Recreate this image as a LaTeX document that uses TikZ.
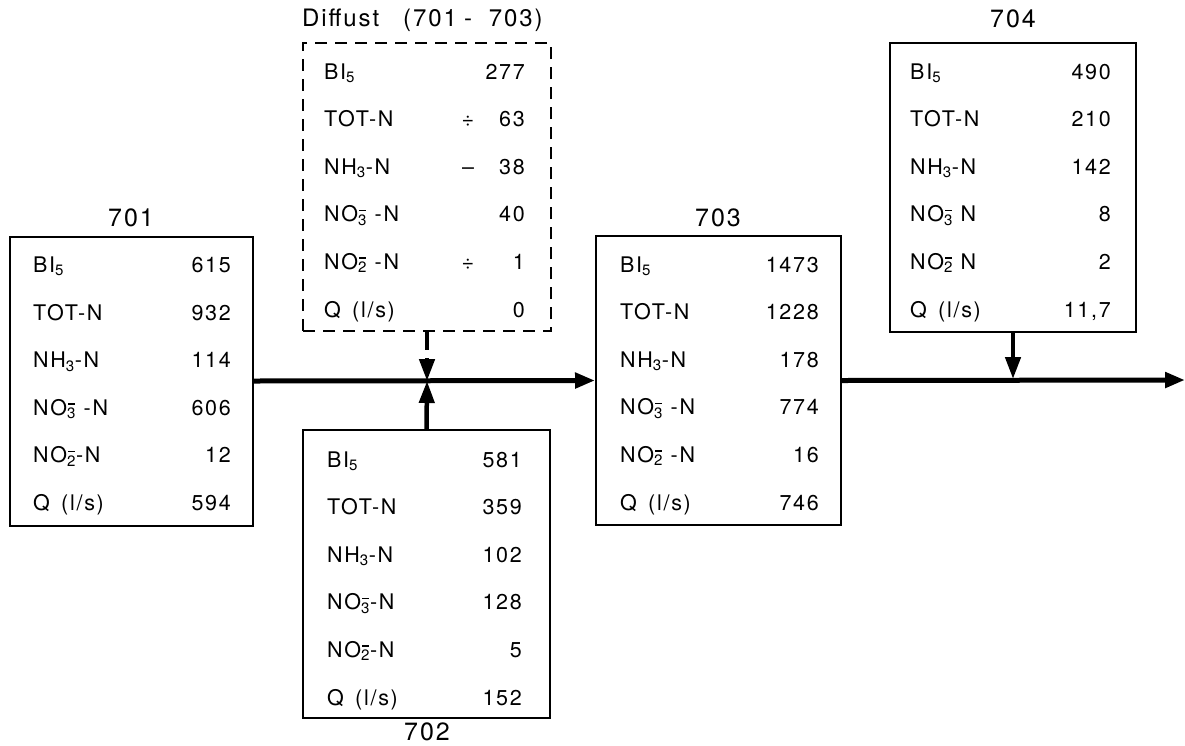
\documentclass[tikz,border=0pt]{standalone}
\usepackage{fontspec}
\setmainfont[LetterSpace=8]{TeX Gyre Heros}
\usetikzlibrary{arrows.meta}
\newcommand\ionsub[1]{\makebox[0pt][l]{\hspace{0.05em}\raisebox{0.5em}{\rule{0.3em}{1.3pt}}}\textsubscript{#1}}
\newcommand\BIfive{BI\textsubscript{5}}
\newcommand\NHthree{NH\textsubscript{3}-N}
\newcommand\Qls{Q\ \,(l/s)}
\begin{document}
\begin{tikzpicture}[x=1pt,y=-1pt,
  every node/.style={font=\fontsize{21.5}{24}\selectfont, inner sep=0pt},
  title/.style={font=\fontsize{25}{28}\selectfont},
  databox/.style={draw, line width=2pt, rectangle, minimum width=#1, minimum height=289pt},
  diffbox/.style={draw, line width=2pt, dash pattern=on 12pt off 8pt, rectangle, minimum width=248pt, minimum height=288pt},
  lab/.style={anchor=base west},
  val/.style={anchor=base east},
  flow/.style={line width=5pt, -{Triangle[length=20pt,width=15pt]}},
  inflow/.style={line width=4.5pt, -{Triangle[length=22pt,width=15pt]}},
  dashflow/.style={line width=4.5pt, dash pattern=on 18pt off 8pt, -{Triangle[length=22pt,width=15pt]}}
]
\useasboundingbox (0,0) rectangle (1185,745);

% boxes
\node[databox=243pt] (b701) at (131.5,381) {};
\node[diffbox] (diff) at (427,187) {};
\node[databox=247pt, minimum height=288pt] (b702) at (426.5,574) {};
\node[databox=245pt] (b703) at (718.5,380.5) {};
\node[databox=246pt] (b704) at (1013,187.5) {};

% titles
\node[title] (t701) at (131,218) {701};
\node[title] (t703) at (718,218) {703};
\node[title] (t704) at (1013,19) {704};
\node[title] (t702) at (427,732) {702};
\node[anchor=west, font=\fontsize{24}{26}\selectfont] (tdiff) at (302,20) {Diffust\hspace{1.0em}(701\hspace{0.3em}-\hspace{0.7em}703)};

% rows of box 701
\foreach \l/\v [count=\i from 0] in {\BIfive/615, TOT-N/932, \NHthree/114, NO\ionsub{3} -N/606, NO\ionsub{2}-N/12, \Qls/594}{
  \node[lab] (r701l\i) at ([xshift=24pt, yshift=-(29+47.6*\i+8)]b701.north west) {\l};
  \node[val] (r701v\i) at ([xshift=-23pt, yshift=-(29+47.6*\i+8)]b701.north east) {\v};
}
% rows of diffuse box
\foreach \l/\v [count=\i from 0] in {\BIfive/277, TOT-N/63, \NHthree/38, NO\ionsub{3} -N/40, NO\ionsub{2} -N/1, \Qls/0}{
  \node[lab] (rdl\i) at ([xshift=22pt, yshift=-(29+47.6*\i+8)]diff.north west) {\l};
  \node[val] (rdv\i) at ([xshift=-27pt, yshift=-(29+47.6*\i+8)]diff.north east) {\v};
}
\node[anchor=base] (m1) at ([xshift=-84pt, yshift=-(29+47.6*1+8)]diff.north east) {÷};
\node[anchor=base] (m2) at ([xshift=-84pt, yshift=-(29+47.6*2+8)]diff.north east) {–};
\node[anchor=base] (m4) at ([xshift=-84pt, yshift=-(29+47.6*4+8)]diff.north east) {÷};
% rows of box 702
\foreach \l/\v [count=\i from 0] in {\BIfive/581, TOT-N/359, \NHthree/102, NO\ionsub{3}-N/128, NO\ionsub{2}-N/5, \Qls/152}{
  \node[lab] (r702l\i) at ([xshift=25pt, yshift=-(30+47.6*\i+8)]b702.north west) {\l};
  \node[val] (r702v\i) at ([xshift=-29pt, yshift=-(30+47.6*\i+8)]b702.north east) {\v};
}
% rows of box 703
\foreach \l/\v [count=\i from 0] in {\BIfive/1473, TOT-N/1228, \NHthree/178, NO\ionsub{3} -N/774, NO\ionsub{2} -N/16, \Qls/746}{
  \node[lab] (r703l\i) at ([xshift=25pt, yshift=-(29+47.6*\i+8)]b703.north west) {\l};
  \node[val] (r703v\i) at ([xshift=-23pt, yshift=-(29+47.6*\i+8)]b703.north east) {\v};
}
% rows of box 704
\foreach \l/\v [count=\i from 0] in {\BIfive/490, TOT-N/210, \NHthree/142, NO\ionsub{3} N/8, NO\ionsub{2} N/2, \Qls/{11,7}}{
  \node[lab] (r704l\i) at ([xshift=21pt, yshift=-(29+47.6*\i+8)]b704.north west) {\l};
  \node[val] (r704v\i) at ([xshift=-26pt, yshift=-(29+47.6*\i+8)]b704.north east) {\v};
}

% connectors
\coordinate (j1) at (427,381);
\coordinate (j2) at (1013,379);
\coordinate (outlet) at (1185,380);
\draw[flow] (b701.east) -- (b703.west);
\draw[flow] (b703.east) -- (outlet);
\draw[dashflow] (diff.south) -- (j1);
\draw[inflow] (b702.north) -- (j1);
\draw[inflow] (b704.south) -- (j2);
\end{tikzpicture}
\end{document}
